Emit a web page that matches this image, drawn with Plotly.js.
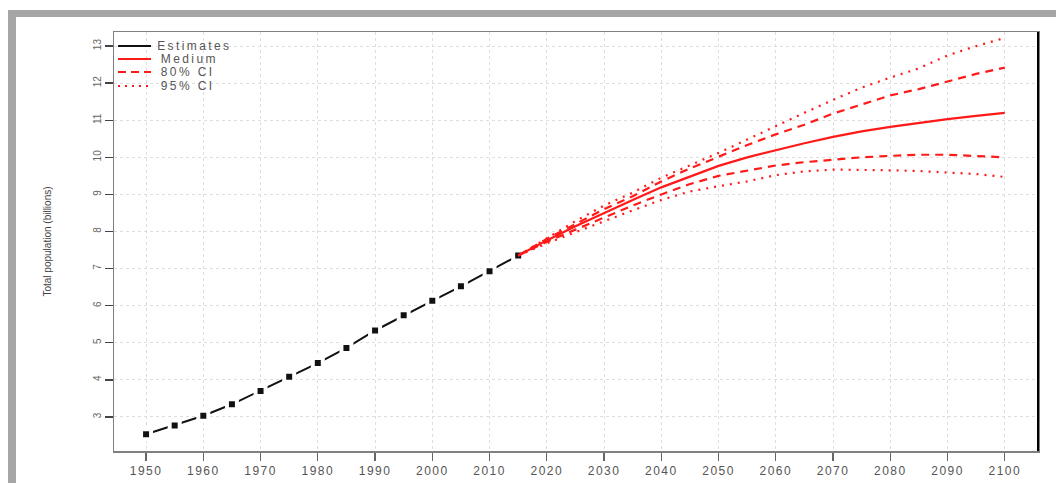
<!DOCTYPE html>
<html>
<head>
<meta charset="utf-8">
<script src="https://cdn.plot.ly/plotly-3.0.1.min.js"></script>
<style>
html,body{margin:0;padding:0;background:#fff;}
#frame{position:absolute;left:8px;top:10px;width:1048px;height:473px;border-top:7px solid #a6a6a6;border-left:8px solid #a6a6a6;box-sizing:border-box;z-index:0;}
#chart{position:absolute;left:0;top:0;width:1056px;height:483px;z-index:1;}
#chart .xtick text{letter-spacing:1.5px;}
#chart .annotation-text{letter-spacing:2.4px;}
</style>
</head>
<body>
<div id="frame"></div>
<div id="chart"></div>
<script>
const estYears = [1950,1955,1960,1965,1970,1975,1980,1985,1990,1995,2000,2005,2010,2015];
const estimates = [2.53,2.77,3.03,3.34,3.70,4.08,4.45,4.86,5.33,5.74,6.13,6.52,6.93,7.35];

const projYears = [2015,2020,2025,2030,2035,2040,2045,2050,2055,2060,2065,2070,2075,2080,2085,2090,2095,2100];
const medium  = [7.35,7.76,8.14,8.50,8.85,9.19,9.49,9.77,10.00,10.20,10.38,10.55,10.70,10.82,10.93,11.03,11.12,11.20];
const upper80 = [7.35,7.80,8.20,8.60,8.95,9.35,9.70,10.02,10.33,10.62,10.88,11.18,11.42,11.67,11.84,12.04,12.25,12.42];
const lower80 = [7.35,7.72,8.05,8.38,8.70,9.00,9.28,9.50,9.65,9.78,9.87,9.94,10.00,10.04,10.07,10.07,10.04,10.00];
const upper95 = [7.35,7.82,8.28,8.70,9.05,9.45,9.78,10.12,10.48,10.85,11.20,11.55,11.88,12.15,12.40,12.75,13.00,13.22];
const lower95 = [7.35,7.68,7.98,8.28,8.57,8.85,9.08,9.22,9.35,9.52,9.62,9.67,9.67,9.65,9.63,9.60,9.55,9.47];

const xTicks = [1950,1960,1970,1980,1990,2000,2010,2020,2030,2040,2050,2060,2070,2080,2090,2100];
const yTicks = [3,4,5,6,7,8,9,10,11,12,13];

const legendLabels = ['Estimates','Medium','80% CI','95% CI'];
const legendColors = ['#111','#ff1a1a','#ff1a1a','#ff1a1a'];
const legendDashes = ['solid','solid','8px,5px','2px,5px'];

const RED = '#ff1a1a';
const traces = [
  {x: estYears, y: estimates, type:'scatter', mode:'lines+markers', name:'Estimates',
   line:{color:'#111', width:2},
   marker:{symbol:'square', size:10, color:'#111', line:{color:'#fff', width:4}}},
  {x: projYears, y: medium, type:'scatter', mode:'lines', name:'Medium', line:{color:RED, width:2.2}},
  {x: projYears, y: upper80, type:'scatter', mode:'lines', name:'80% CI upper', line:{color:RED, width:2.2, dash:'8px,6px'}},
  {x: projYears, y: lower80, type:'scatter', mode:'lines', name:'80% CI lower', line:{color:RED, width:2.2, dash:'8px,6px'}},
  {x: projYears, y: upper95, type:'scatter', mode:'lines', name:'95% CI upper', line:{color:RED, width:2.2, dash:'2px,6px'}},
  {x: projYears, y: lower95, type:'scatter', mode:'lines', name:'95% CI lower', line:{color:RED, width:2.2, dash:'2px,6px'}}
];

// manual legend (R-style, tight rows)
const plotL = 114, plotT = 32, plotW = 1056-114-18, plotH = 483-32-32;
const px = v => (v - plotL) / plotW;
const py = v => 1 - (v - plotT) / plotH;
const rowsY = [46, 59, 72, 86];
const shapes = [{type:'line', xref:'paper', yref:'paper', x0:1, x1:1, y0:0, y1:1, line:{color:'#000', width:2}}];
const annotations = [];
legendLabels.forEach((lab, i) => {
  shapes.push({type:'line', xref:'paper', yref:'paper', x0:px(118), x1:px(151), y0:py(rowsY[i]), y1:py(rowsY[i]),
    line:{color:legendColors[i], width:2.2, dash:legendDashes[i]}});
  annotations.push({xref:'paper', yref:'paper', x:px(166), y:py(rowsY[i]), xanchor:'left', yanchor:'middle',
    text:lab, showarrow:false, font:{size:12, color:'#555'}});
});

const layout = {
  width:1056, height:483,
  margin:{l:114, r:18, t:32, b:32},
  paper_bgcolor:'rgba(0,0,0,0)',
  plot_bgcolor:'#fff',
  font:{family:'Liberation Sans, Arial, sans-serif', color:'#555', size:11},
  showlegend:false,
  xaxis:{range:[1944.4,2105.8], tickvals:xTicks, ticktext:xTicks.map(String),
    showgrid:true, gridcolor:'#dedede', griddash:'dot', gridwidth:1,
    zeroline:false, showline:true, linecolor:'#808080', linewidth:1.5, mirror:true,
    ticks:'outside', ticklen:8, tickcolor:'#666', tickwidth:1.2,
    tickfont:{size:12, color:'#555'}},
  yaxis:{range:[2.08,13.38], tickvals:yTicks, ticktext:yTicks.map(String), tickangle:-90,
    showgrid:true, gridcolor:'#dedede', griddash:'dot', gridwidth:1,
    zeroline:false, showline:true, linecolor:'#808080', linewidth:1.5, mirror:true,
    ticks:'outside', ticklen:8, tickcolor:'#444', tickwidth:1.5,
    tickfont:{size:10, color:'#666'},
    title:{text:'Total population (billions)', font:{size:10, color:'#444'}, standoff:38}},
  shapes: shapes,
  annotations: annotations
};

Plotly.newPlot('chart', traces, layout, {displayModeBar:false, staticPlot:true});
</script>
</body>
</html>
